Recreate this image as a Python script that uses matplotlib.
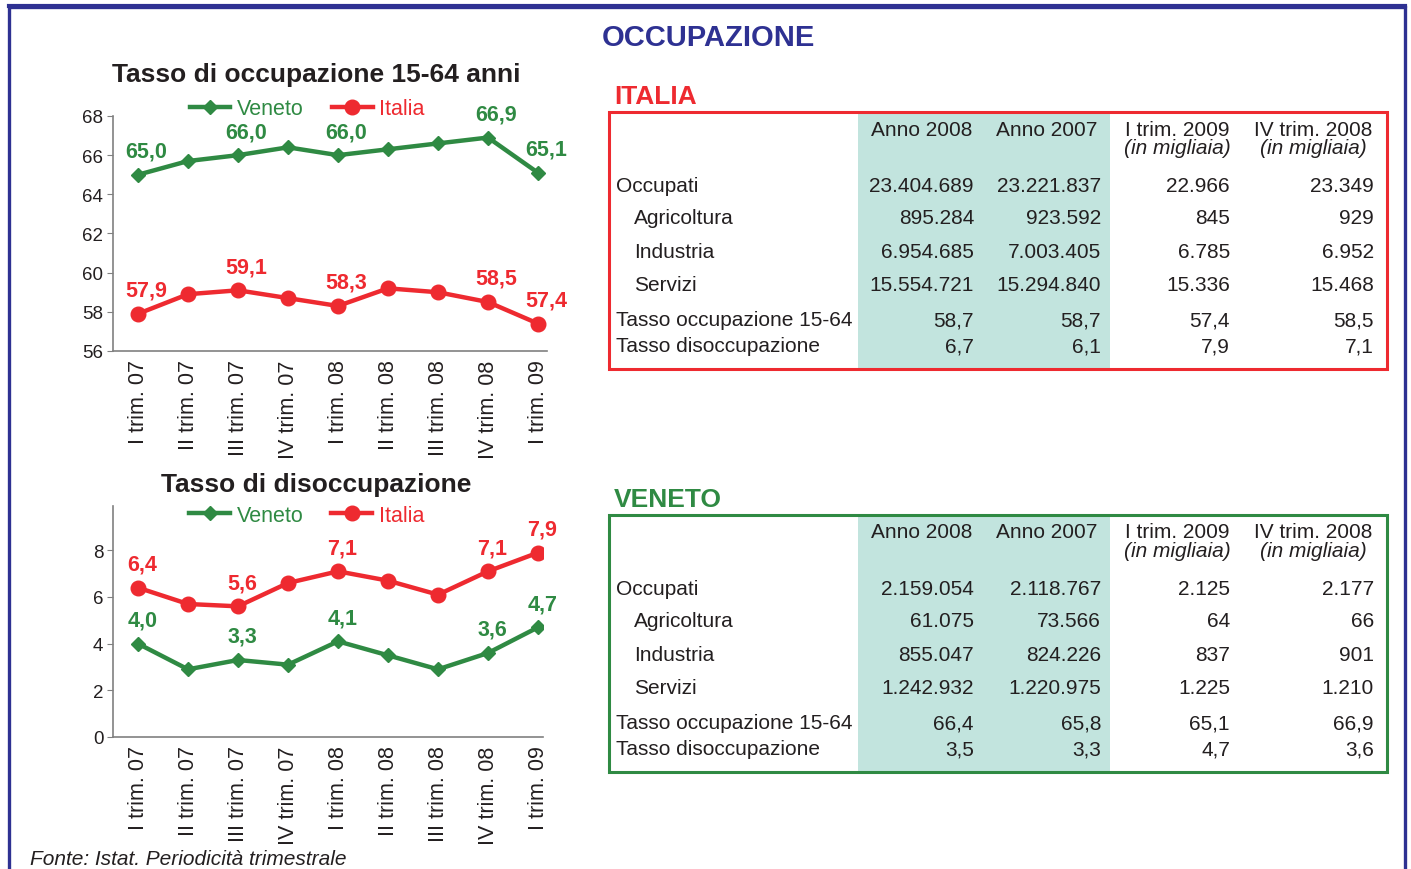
import matplotlib
matplotlib.use('Agg')
import matplotlib.pyplot as plt
from matplotlib.patches import Rectangle

plt.rcParams['font.family'] = ['Liberation Sans', 'DejaVu Sans']

# chart data
quarters = ['I trim. 07', 'II trim. 07', 'III trim. 07', 'IV trim. 07',
            'I trim. 08', 'II trim. 08', 'III trim. 08', 'IV trim. 08',
            'I trim. 09']
occ_veneto = [65.0, 65.7, 66.0, 66.4, 66.0, 66.3, 66.6, 66.9, 65.1]
occ_italia = [57.9, 58.9, 59.1, 58.7, 58.3, 59.2, 59.0, 58.5, 57.4]
dis_veneto = [4.0, 2.9, 3.3, 3.1, 4.1, 3.5, 2.9, 3.6, 4.7]
dis_italia = [6.4, 5.7, 5.6, 6.6, 7.1, 6.7, 6.1, 7.1, 7.9]
labelled = [0, 2, 4, 7, 8]   # points that carry a value label

# table data
col_headers = ['Anno 2008', 'Anno 2007', 'I trim. 2009', 'IV trim. 2008']
col_sub = ['', '', '(in migliaia)', '(in migliaia)']
row_labels = ['Occupati', 'Agricoltura', 'Industria', 'Servizi',
              'Tasso occupazione 15-64', 'Tasso disoccupazione']
row_indent = [False, True, True, True, False, False]
italia_vals = [['23.404.689', '23.221.837', '22.966', '23.349'],
               ['895.284', '923.592', '845', '929'],
               ['6.954.685', '7.003.405', '6.785', '6.952'],
               ['15.554.721', '15.294.840', '15.336', '15.468'],
               ['58,7', '58,7', '57,4', '58,5'],
               ['6,7', '6,1', '7,9', '7,1']]
veneto_vals = [['2.159.054', '2.118.767', '2.125', '2.177'],
               ['61.075', '73.566', '64', '66'],
               ['855.047', '824.226', '837', '901'],
               ['1.242.932', '1.220.975', '1.225', '1.210'],
               ['66,4', '65,8', '65,1', '66,9'],
               ['3,5', '3,3', '4,7', '3,6']]

GREEN = '#2f8a43'
RED = '#ee2a30'
BLUE = '#2e3192'
SHADE = '#c2e4de'
TXT = '#231f20'
W, H = 1411, 870

fig = plt.figure(figsize=(W / 100, H / 100), dpi=100)


def px_axes(l, t, r, b):
    return fig.add_axes([l / W, 1 - b / H, (r - l) / W, (b - t) / H])


def fmt(v):
    return ('%.1f' % v).replace('.', ',')


def draw_chart(ax, veneto, italia, ylim, yticks, xright, dx, leg_anchor):
    x = list(range(len(quarters)))
    lv, = ax.plot(x, veneto, color=GREEN, lw=3.2, marker='D', ms=7,
                  label='Veneto', zorder=3)
    li, = ax.plot(x, italia, color=RED, lw=3.2, marker='o', ms=10.5,
                  label='Italia', zorder=3)
    for vals, col in ((veneto, GREEN), (italia, RED)):
        for i in labelled:
            ax.annotate(fmt(vals[i]), (x[i], vals[i]), xytext=(dx, 17),
                        textcoords='offset points', ha='center', va='center',
                        fontsize=15.5, fontweight='bold', color=col,
                        annotation_clip=False)
    ax.set_xlim(-0.5, xright)
    ax.set_ylim(*ylim)
    ax.set_yticks(yticks)
    ax.set_xticks(x)
    ax.set_xticklabels(quarters, rotation=90, fontsize=15.5, color=TXT)
    ax.tick_params(axis='x', length=0, pad=6)
    ax.tick_params(axis='y', length=4, color='#808080', labelsize=13.5,
                   labelcolor=TXT, pad=3)
    for s in ('top', 'right'):
        ax.spines[s].set_visible(False)
    for s in ('left', 'bottom'):
        ax.spines[s].set_color('#808080')
        ax.spines[s].set_linewidth(1.2)
    ax.legend(handles=[lv, li], loc='center', bbox_to_anchor=leg_anchor,
              ncol=2, frameon=False, fontsize=15.5, handlelength=1.9,
              handletextpad=0.3, columnspacing=1.3, labelcolor='linecolor',
              borderaxespad=0, borderpad=0)


ax1 = px_axes(113, 117, 547, 352)
draw_chart(ax1, occ_veneto, occ_italia, (56, 68), range(56, 69, 2), 8.18,
           6, (0.447, 1.03))
ax2 = px_axes(113, 507, 543, 738)
draw_chart(ax2, dis_veneto, dis_italia, (0, 9.9), range(0, 9, 2), 8.1,
           3, (0.45, 0.96))

# overlay in pixel coordinates for frames, titles and tables
ov = fig.add_axes([0, 0, 1, 1], facecolor='none')
ov.set_xlim(0, W)
ov.set_ylim(H, 0)
ov.axis('off')

ov.add_patch(Rectangle((9, 8), 1396, 900, fill=False, ec=BLUE, lw=2.4))
ov.plot([9, 1405], [7, 7], color=BLUE, lw=3)
ov.text(708, 38, 'OCCUPAZIONE', ha='center', va='center', fontsize=21,
        fontweight='bold', color=BLUE)
ov.text(316, 75, 'Tasso di occupazione 15-64 anni', ha='center',
        va='center', fontsize=19, fontweight='bold', color=TXT)
ov.text(316, 485, 'Tasso di disoccupazione', ha='center', va='center',
        fontsize=19, fontweight='bold', color=TXT)
ov.text(30, 860, 'Fonte: Istat. Periodicità trimestrale', ha='left',
        va='center', fontsize=15, style='italic', color=TXT)

col_right = [974, 1101, 1230, 1374]
col_center = [922, 1047, 1177, 1313]


def draw_table(title, color, top, vals):
    bottom = top + 257
    ov.text(614, top - 16, title, ha='left', va='center', fontsize=19,
            fontweight='bold', color=color)
    ov.add_patch(Rectangle((858, top), 252, bottom - top, fc=SHADE, ec='none'))
    ov.add_patch(Rectangle((609, top), 778, bottom - top, fill=False,
                           ec=color, lw=2.2))
    for j, head in enumerate(col_headers):
        ov.text(col_center[j], top + 17, head, ha='center', va='center',
                fontsize=15, color=TXT)
        if col_sub[j]:
            ov.text(col_center[j], top + 36, col_sub[j], ha='center',
                    va='center', fontsize=15, style='italic', color=TXT)
    row_y = [74, 106, 140, 173, 208, 234]
    for i, lab in enumerate(row_labels):
        y = top + row_y[i]
        ov.text(634 if row_indent[i] else 616, y, lab, ha='left', va='center',
                fontsize=15, color=TXT)
        for j, v in enumerate(vals[i]):
            ov.text(col_right[j], y, v, ha='right', va='center', fontsize=15,
                    color=TXT)


draw_table('ITALIA', RED, 113, italia_vals)
draw_table('VENETO', GREEN, 516, veneto_vals)

fig.savefig('out.png', dpi=100)
